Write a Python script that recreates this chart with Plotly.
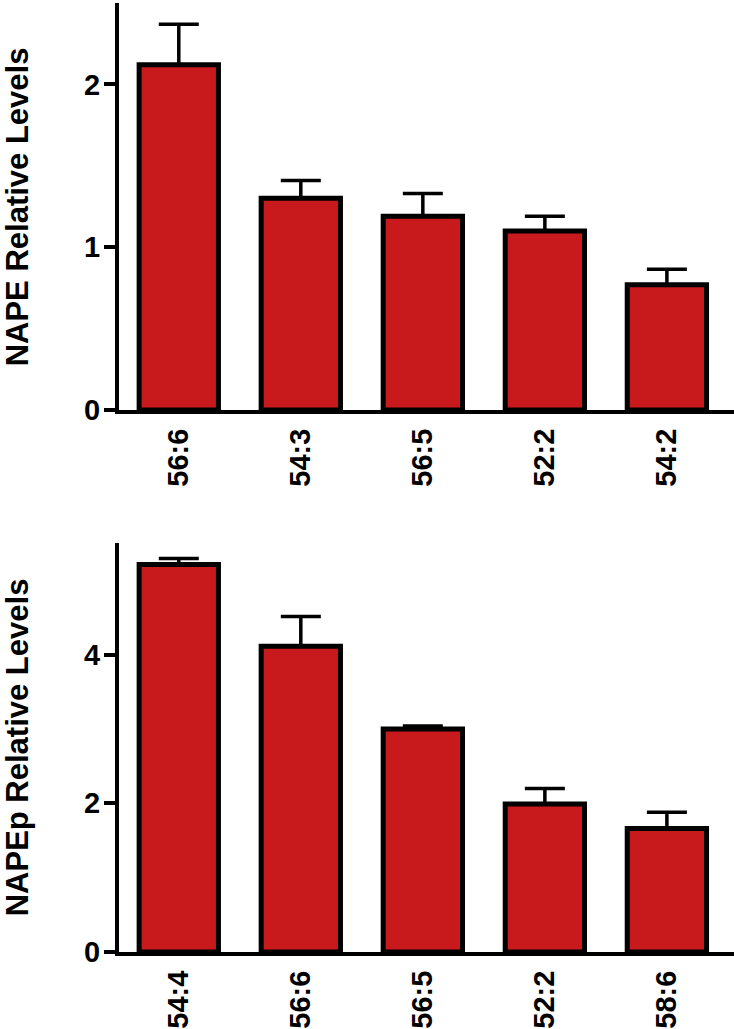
import plotly.graph_objects as go

# Top chart data
nape_labels = ["56:6", "54:3", "56:5", "52:2", "54:2"]
nape_values = [2.12, 1.30, 1.19, 1.10, 0.77]
nape_errors = [0.25, 0.11, 0.14, 0.09, 0.095]

# Bottom chart data
napep_labels = ["54:4", "56:6", "56:5", "52:2", "58:6"]
napep_values = [5.21, 4.11, 3.00, 1.99, 1.66]
napep_errors = [0.08, 0.40, 0.04, 0.21, 0.22]

nape_ticks = [0, 1, 2]
napep_ticks = [0, 2, 4]

RED = "#c8191d"
FONT = dict(family="Liberation Sans, Arial, sans-serif", color="black", weight="bold")

fig = go.Figure()

def add_bars(labels, values, errors, xa, ya):
    fig.add_trace(go.Bar(
        x=labels, y=values, width=0.65,
        marker=dict(color=RED, line=dict(color="black", width=5)),
        error_y=dict(type="data", symmetric=False, array=errors,
                     arrayminus=[0] * len(errors), color="black",
                     thickness=3.5, width=20),
        xaxis=xa, yaxis=ya, showlegend=False,
    ))

add_bars(nape_labels, nape_values, nape_errors, "x", "y")
add_bars(napep_labels, napep_values, napep_errors, "x2", "y2")

xcommon = dict(showline=True, linecolor="black", linewidth=4, ticks="",
               tickangle=-90, tickfont=dict(size=29, **FONT),
               range=[-0.49, 4.55], showgrid=False, zeroline=False,
               ticklabelstandoff=3)
ycommon = dict(showline=True, linecolor="black", linewidth=4, ticks="outside",
               ticklen=11, tickwidth=3.5, tickcolor="black",
               tickfont=dict(size=29, **FONT), showgrid=False, zeroline=False,
               ticklabelstandoff=-2)

fig.update_layout(
    width=734, height=1029,
    margin=dict(l=119, r=0, t=3, b=77),
    plot_bgcolor="white", paper_bgcolor="white",
    xaxis=dict(domain=[0, 1], anchor="y", **xcommon),
    yaxis=dict(domain=[0.5711, 1], anchor="x", range=[0, 2.5],
               tickvals=nape_ticks, **ycommon),
    xaxis2=dict(domain=[0, 1], anchor="y2", **xcommon),
    yaxis2=dict(domain=[0, 0.431], anchor="x2", range=[0, 5.5],
                tickvals=napep_ticks, **ycommon),
    annotations=[
        dict(text="NAPE Relative Levels", textangle=-90, xref="paper",
             yref="paper", x=-0.1645, y=(0.5711 + 1) / 2, xanchor="center",
             yanchor="middle", showarrow=False, font=dict(size=31, **FONT)),
        dict(text="NAPEp Relative Levels", textangle=-90, xref="paper",
             yref="paper", x=-0.1645, y=0.431 / 2, xanchor="center",
             yanchor="middle", showarrow=False, font=dict(size=31, **FONT)),
    ],
)

fig.write_html("out.html", config={"displayModeBar": False},
               post_script="document.body.style.margin='0';document.body.style.overflow='hidden';")
